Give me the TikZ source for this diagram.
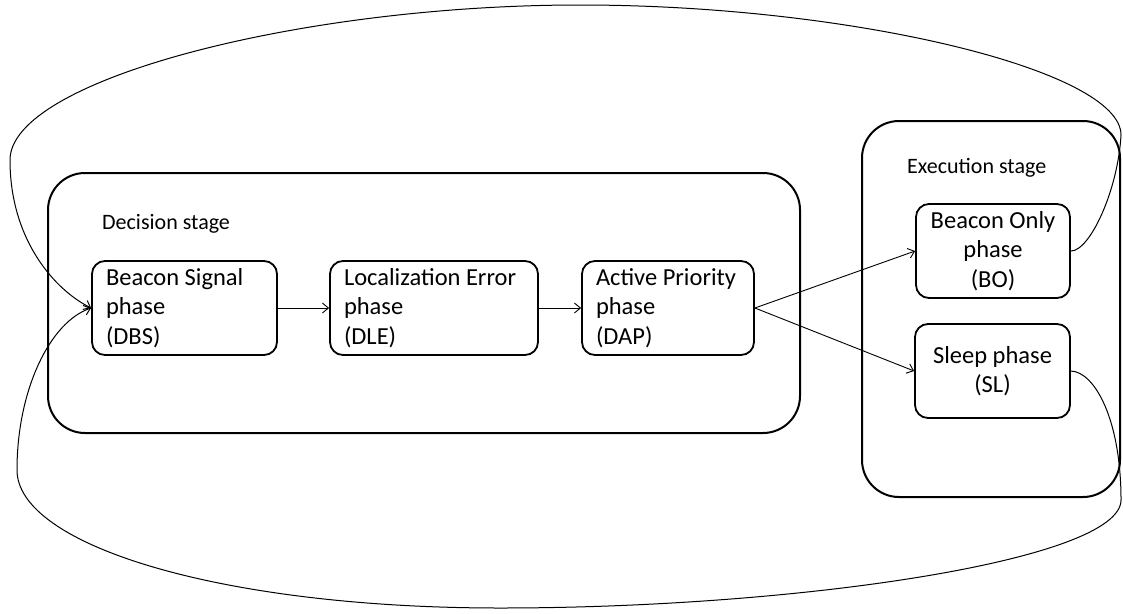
\documentclass[tikz,border=0pt]{standalone}
\usepackage{fontspec}
\setmainfont{Carlito}
\usetikzlibrary{arrows.meta}
\begin{document}
\begin{tikzpicture}[x=1pt,y=-1pt,
  stagebox/.style={draw, line width=2pt, rounded corners=37pt, inner sep=0pt},
  phasebox/.style={draw, line width=1.8pt, rounded corners=13pt, minimum height=94pt, inner ysep=0pt, font=\fontsize{24.5pt}{29.5pt}\selectfont},
  leftphase/.style={phasebox, align=flush left, inner xsep=14pt},
  midphase/.style={phasebox, align=center, inner xsep=0pt},
  stagelabel/.style={font=\fontsize{22pt}{26pt}\selectfont, anchor=base west, inner sep=0pt},
  conn/.style={line width=0.9pt, -{Straight Barb[length=6pt,width=10pt]}},
  loopline/.style={line width=1pt, -{Straight Barb[length=6pt,width=10pt]}}]
\useasboundingbox (0,0) rectangle (1123,613);
% stages
\node[stagebox, minimum width=752pt, minimum height=260pt] (dec) at (424,303) {};
\node[stagebox, minimum width=258pt, minimum height=376pt] (exe) at (991,309) {};
\node[stagelabel] (declabel) at (102,229) {Decision stage};
\node[stagelabel] (exelabel) at (907,173) {Execution stage};
% phases
\node[leftphase, text width=157pt] (dbs) at (184.5,308) {Beacon Signal\\phase\\(DBS)};
\node[leftphase, text width=180pt] (dle) at (434,308) {Localization Error\\phase\\(DLE)};
\node[leftphase, text width=144pt] (dap) at (668,308) {Active Priority\\phase\\(DAP)};
\node[midphase, minimum width=154pt] (bo) at (993,251) {Beacon Only\\phase\\(BO)};
\node[midphase, minimum width=155pt] (sl) at (992.5,371) {Sleep phase\\(SL)};
% connectors
\draw[conn] (dbs) -- (dle);
\draw[conn] (dle) -- (dap);
\draw[conn] (dap.east) -- (bo.west);
\draw[conn] (dap.east) -- (sl.west);
% loops
\draw[loopline] (bo.east) .. controls (1090,251) and (1118,190) .. (1121,135)
  .. controls (1121,70) and (850,5) .. (580,5)
  .. controls (300,5) and (10,80) .. (10,160)
  .. controls (10,240) and (55,290) .. (dbs.west);
\draw[loopline] (sl.east) .. controls (1095,372) and (1121,420) .. (1121,500)
  .. controls (1121,560) and (800,608) .. (500,608)
  .. controls (220,608) and (17,545) .. (17,470)
  .. controls (17,390) and (50,322) .. (dbs.west);
\end{tikzpicture}
\end{document}
